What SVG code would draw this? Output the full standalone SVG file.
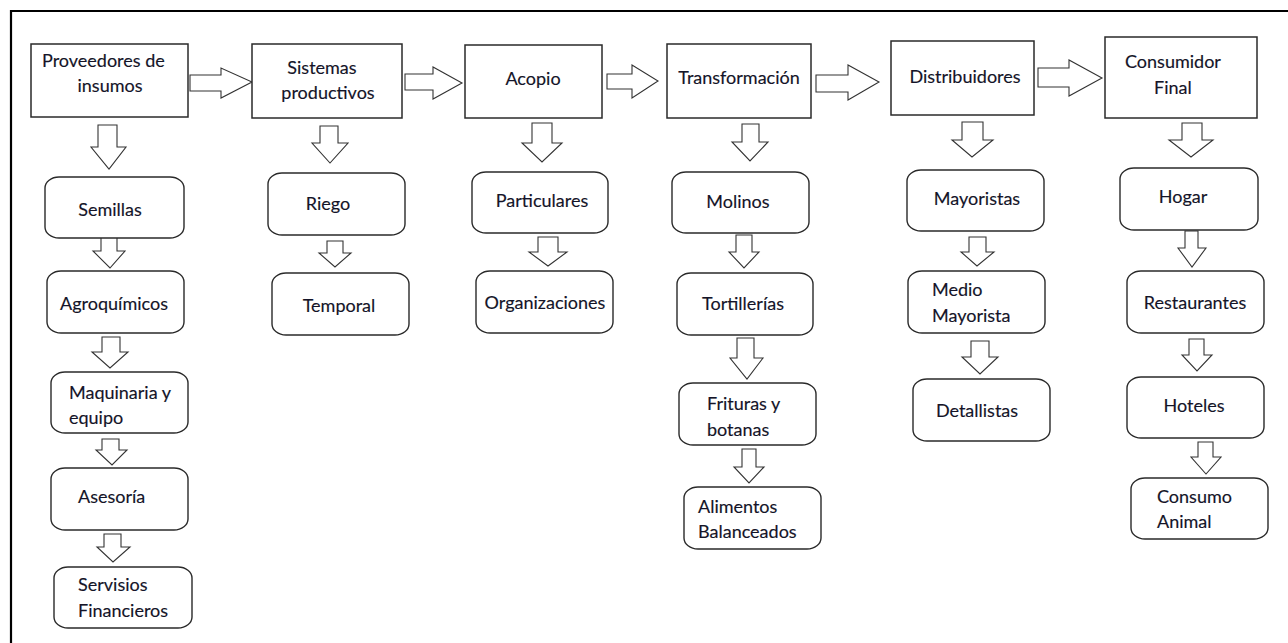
<svg xmlns="http://www.w3.org/2000/svg" width="1288" height="643" viewBox="0 0 1288 643">
<style>
.bg{fill:#ffffff}
.frame{stroke:#000;stroke-width:2.2;fill:none}
.main{fill:#fff;stroke:#2a2a2a;stroke-width:1.5}
.sub{fill:#fff;stroke:#2a2a2a;stroke-width:1.4}
.arr{fill:#fff;stroke:#333;stroke-width:1.1;stroke-linejoin:miter}
text{font-family:Lato,"Open Sans","Liberation Sans",sans-serif;font-size:18px;fill:#141428;stroke:#141428;stroke-width:0.15}
.c{text-anchor:middle}
</style>
<rect class="bg" x="0" y="0" width="1288" height="643"/>
<g id="frame">
<path class="frame" d="M11,643 L11,11 L1288,11"/>
</g>
<g id="connectors">
<polygon class="arr" points="190,75 221,75 221,68 252,82 221,98 221,91 190,91"/>
<polygon class="arr" points="405,74 433,74 433,67 462,83 433,99 433,90 405,90"/>
<polygon class="arr" points="607,74 632,74 632,65 658,81 632,98 632,89 607,89"/>
<polygon class="arr" points="816,75 848,75 848,65 879,82 848,100 848,92 816,92"/>
<polygon class="arr" points="1038,68 1069,68 1069,60 1102,78 1069,96 1069,87 1038,87"/>
<polygon class="arr" points="98,125 117,125 117,147 126,147 109,169 91,147 98,147"/>
<polygon class="arr" points="101,237 117,237 117,251 125,251 110,268 93,251 101,251"/>
<polygon class="arr" points="102,337 120,337 120,352 128,352 110,368 92,352 102,352"/>
<polygon class="arr" points="102,439 119,439 119,450 127,450 112,465 96,450 102,450"/>
<polygon class="arr" points="104,534 121,534 121,547 130,547 113,562 97,547 104,547"/>
<polygon class="arr" points="320,126 338,126 338,143 348,143 330,163 312,143 320,143"/>
<polygon class="arr" points="327,241 343,241 343,253 351,253 335,267 319,253 327,253"/>
<polygon class="arr" points="532,123 552,123 552,143 562,143 542,162 522,143 532,143"/>
<polygon class="arr" points="538,237 558,237 558,252 567,252 548,266 529,252 538,252"/>
<polygon class="arr" points="742,124 759,124 759,142 768,142 750,161 732,142 742,142"/>
<polygon class="arr" points="736,235 752,235 752,252 759,252 744,268 729,252 736,252"/>
<polygon class="arr" points="737,338 754,338 754,358 763,358 747,379 730,358 737,358"/>
<polygon class="arr" points="742,449 756,449 756,467 764,467 749,483 734,467 742,467"/>
<polygon class="arr" points="962,122 983,122 983,140 993,140 972,157 952,140 962,140"/>
<polygon class="arr" points="969,237 986,237 986,252 994,252 977,266 961,252 969,252"/>
<polygon class="arr" points="971,341 989,341 989,357 998,357 980,374 962,357 971,357"/>
<polygon class="arr" points="1182,123 1202,123 1202,140 1213,140 1191,157 1169,140 1182,140"/>
<polygon class="arr" points="1185,231 1198,231 1198,248 1206,248 1192,267 1178,248 1185,248"/>
<polygon class="arr" points="1189,339 1204,339 1204,355 1212,355 1197,371 1182,355 1189,355"/>
<polygon class="arr" points="1198,442 1213,442 1213,457 1221,457 1206,474 1191,457 1198,457"/>
</g>
<g id="n-proveedores"><rect class="main" x="31" y="44" width="157" height="73"/><text x="42" y="67">Proveedores de</text><text class="c" x="110" y="92">insumos</text></g>
<g id="n-sistemas"><rect class="main" x="252" y="44" width="150" height="74"/><text class="c" x="322" y="74">Sistemas</text><text class="c" x="328" y="99">productivos</text></g>
<g id="n-acopio"><rect class="main" x="465" y="45" width="137" height="73"/><text class="c" x="533" y="85">Acopio</text></g>
<g id="n-transformacion"><rect class="main" x="667" y="44" width="144" height="74"/><text class="c" x="739" y="84">Transformación</text></g>
<g id="n-distribuidores"><rect class="main" x="891" y="41" width="143" height="74"/><text class="c" x="965" y="83">Distribuidores</text></g>
<g id="n-consumidor"><rect class="main" x="1105" y="37" width="152" height="81"/><text x="1125" y="68">Consumidor</text><text x="1154" y="94">Final</text></g>
<g id="n-semillas"><rect class="sub" x="45" y="177" width="139" height="61" rx="14" ry="11"/><text class="c" x="110" y="216">Semillas</text></g>
<g id="n-agroquimicos"><rect class="sub" x="47" y="271" width="137" height="62" rx="14" ry="11"/><text class="c" x="114" y="310">Agroquímicos</text></g>
<g id="n-maquinaria"><rect class="sub" x="51" y="372" width="137" height="61" rx="14" ry="11"/><text x="69" y="399">Maquinaria y</text><text x="69" y="424">equipo</text></g>
<g id="n-asesoria"><rect class="sub" x="51" y="468" width="137" height="62" rx="14" ry="11"/><text x="78" y="503">Asesoría</text></g>
<g id="n-servisios"><rect class="sub" x="54" y="567" width="138" height="61" rx="14" ry="11"/><text x="78" y="591">Servisios</text><text x="78" y="617">Financieros</text></g>
<g id="n-riego"><rect class="sub" x="268" y="173" width="137" height="62" rx="14" ry="11"/><text class="c" x="328" y="210">Riego</text></g>
<g id="n-temporal"><rect class="sub" x="272" y="273" width="137" height="62" rx="14" ry="11"/><text class="c" x="339" y="312">Temporal</text></g>
<g id="n-particulares"><rect class="sub" x="472" y="172" width="136" height="61" rx="14" ry="11"/><text class="c" x="542" y="207">Particulares</text></g>
<g id="n-organizaciones"><rect class="sub" x="476" y="271" width="137" height="62" rx="14" ry="11"/><text class="c" x="545" y="309">Organizaciones</text></g>
<g id="n-molinos"><rect class="sub" x="672" y="172" width="137" height="61" rx="14" ry="11"/><text class="c" x="738" y="208">Molinos</text></g>
<g id="n-tortillerias"><rect class="sub" x="677" y="273" width="136" height="62" rx="14" ry="11"/><text class="c" x="743" y="310">Tortillerías</text></g>
<g id="n-frituras"><rect class="sub" x="679" y="383" width="137" height="62" rx="14" ry="11"/><text x="707" y="410">Frituras y</text><text x="707" y="436">botanas</text></g>
<g id="n-alimentos"><rect class="sub" x="684" y="487" width="137" height="62" rx="14" ry="11"/><text x="698" y="513">Alimentos</text><text x="698" y="538">Balanceados</text></g>
<g id="n-mayoristas"><rect class="sub" x="907" y="170" width="137" height="61" rx="14" ry="11"/><text class="c" x="977" y="205">Mayoristas</text></g>
<g id="n-medio"><rect class="sub" x="908" y="271" width="137" height="62" rx="14" ry="11"/><text x="932" y="296">Medio</text><text x="932" y="322">Mayorista</text></g>
<g id="n-detallistas"><rect class="sub" x="913" y="379" width="137" height="62" rx="14" ry="11"/><text class="c" x="977" y="417">Detallistas</text></g>
<g id="n-hogar"><rect class="sub" x="1120" y="168" width="138" height="62" rx="14" ry="11"/><text class="c" x="1183" y="203">Hogar</text></g>
<g id="n-restaurantes"><rect class="sub" x="1127" y="271" width="137" height="62" rx="14" ry="11"/><text class="c" x="1195" y="309">Restaurantes</text></g>
<g id="n-hoteles"><rect class="sub" x="1127" y="377" width="137" height="61" rx="14" ry="11"/><text class="c" x="1194" y="412">Hoteles</text></g>
<g id="n-consumo"><rect class="sub" x="1131" y="478" width="137" height="61" rx="14" ry="11"/><text x="1157" y="503">Consumo</text><text x="1157" y="528">Animal</text></g>
</svg>
